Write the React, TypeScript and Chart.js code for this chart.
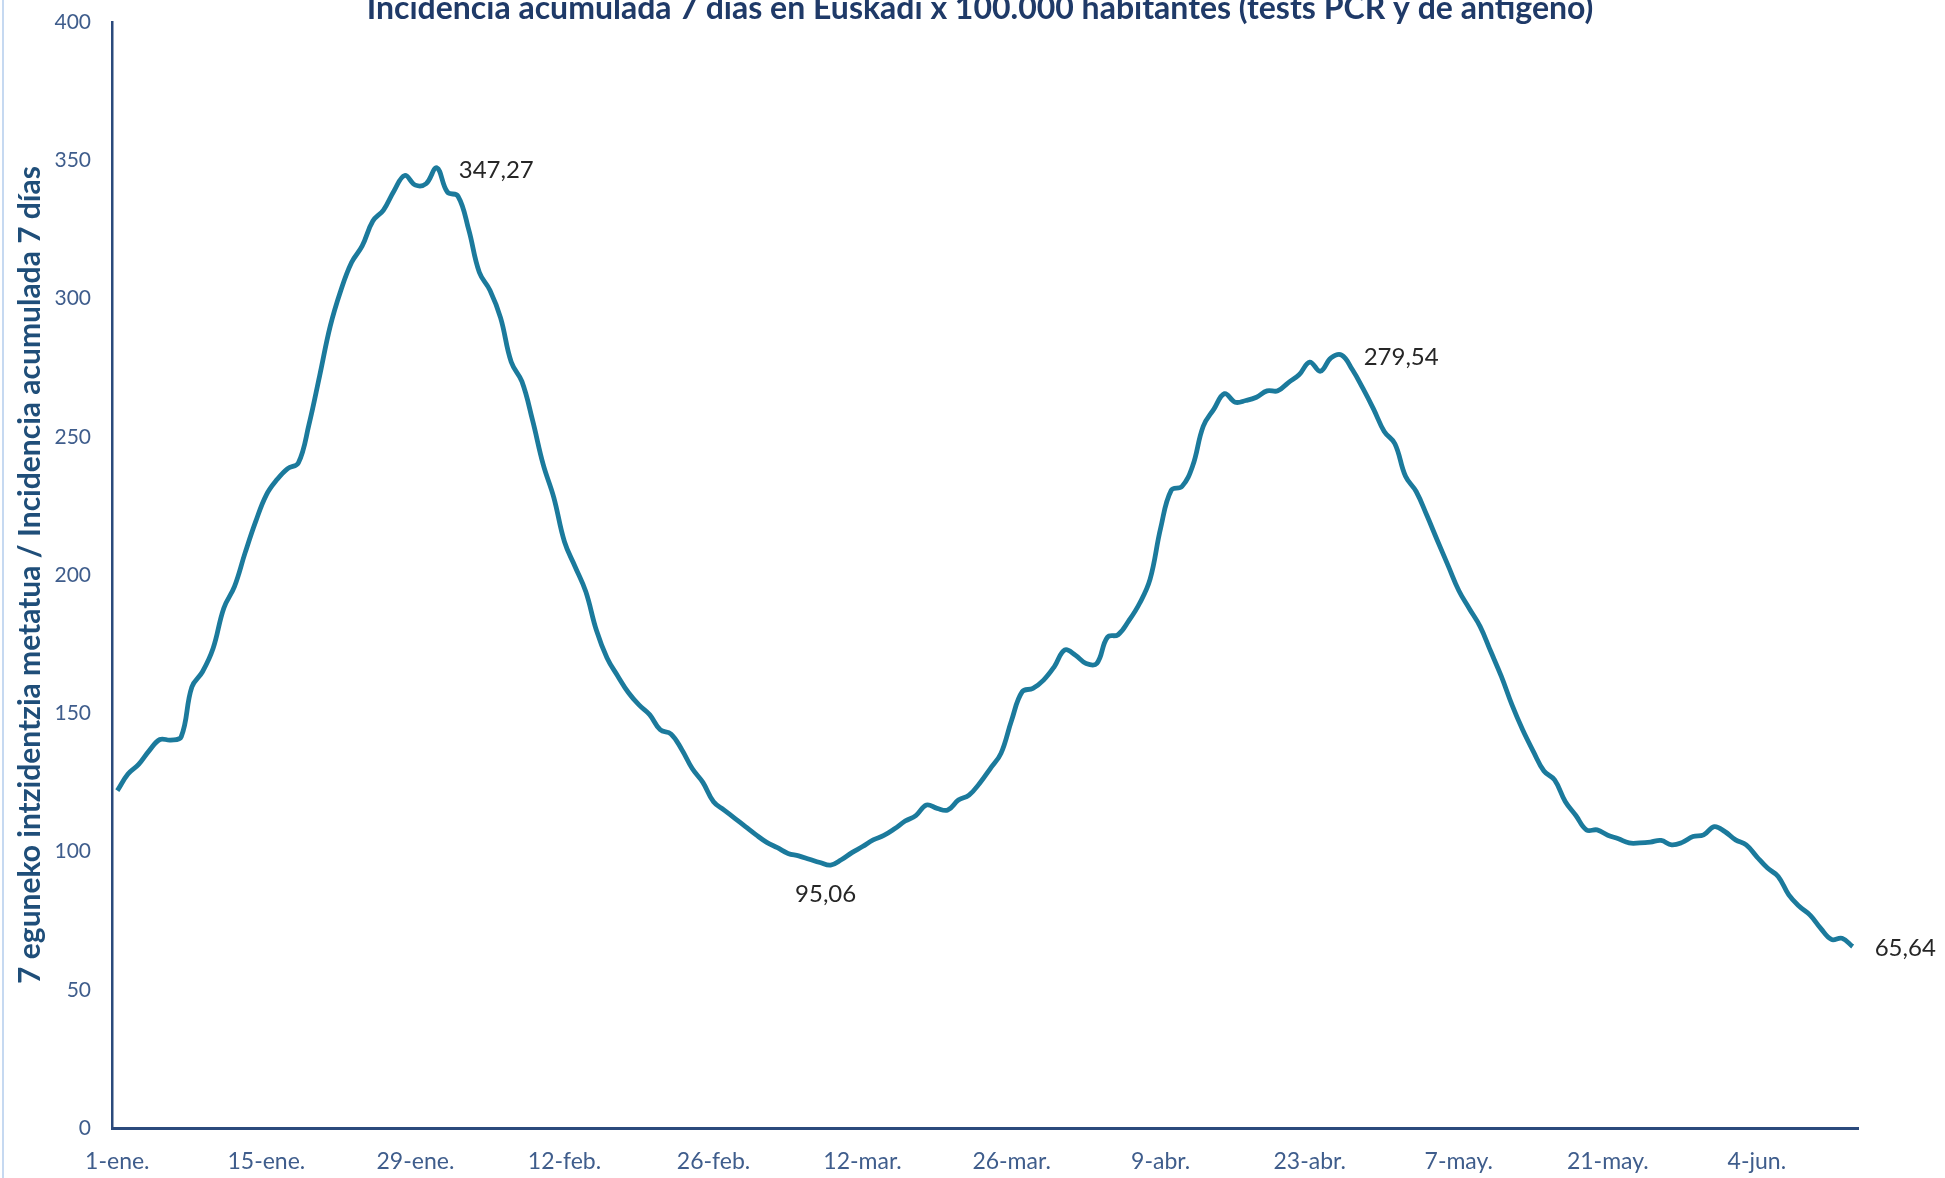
import React, { useEffect, useRef } from 'react';
import { Chart, registerables } from 'chart.js';

Chart.register(...registerables);

const TITLE = 'Incidencia acumulada 7 días en Euskadi x 100.000 habitantes (tests PCR y de antígeno)';
const Y_TITLE = '7 eguneko intzidentzia metatua / Incidencia acumulada 7 días';

const MONTHS = ['ene', 'feb', 'mar', 'abr', 'may', 'jun'];
const MONTH_DAYS = [31, 28, 31, 30, 31, 30];
const DAY_COUNT = 164;
const TICK_EVERY = 14;

const Y_MIN = 0;
const Y_MAX = 400;
const Y_STEP = 50;

// 7-day cumulative incidence per 100,000 inhabitants, 1-ene to 13-jun
const incidence = [
  122, 128, 131.5, 136.5, 140.5, 140.3, 141.5, 159.5, 165, 173.5,
  188, 195.8, 208, 219.4, 229, 234.5, 238.5, 240.5, 254.4, 272,
  290, 303, 313, 319, 328, 332, 339, 344.5, 341, 341.5,
  347.27, 338.5, 337, 325, 309.5, 303, 293, 277, 270, 256,
  240, 228, 212, 203, 194, 180, 170, 163.5, 157.5, 153,
  149.5, 144, 142.5, 137, 130, 125, 118, 115, 112, 109,
  106, 103.3, 101.4, 99.3, 98.4, 97.2, 96, 95.06, 97, 99.6,
  101.8, 104.2, 105.8, 108.2, 111, 113, 116.8, 115.6, 115, 118.6,
  120.4, 124.7, 130, 135.5, 147.5, 157.8, 159, 162, 166.8, 172.9,
  171, 168, 168, 177.5, 178.4, 183.4, 189.6, 198.4, 217, 230.7,
  232, 239.4, 253.8, 260, 265.6, 262.5, 263.1, 264.3, 266.6, 266.6,
  269.6, 272.4, 277, 273.7, 278.5, 279.54, 274.3, 267.5, 260, 251.9,
  247.5, 235.7, 230.2, 221.6, 212.4, 203.4, 194.4, 187.8, 181.4, 172.4,
  163.3, 153, 144, 136.2, 129.1, 125.9, 118.1, 113, 107.8, 107.8,
  105.9, 104.6, 103.1, 103.1, 103.4, 104, 102.4, 103.3, 105.4, 106,
  109, 107.2, 104.2, 102.4, 98.1, 94, 91, 84.3, 80.1, 77,
  72.2, 68.2, 68.6, 65.64,
];

const annotatedIndex = [30, 67, 115, 163];
const annotatedSide = ['right', 'below', 'right', 'right'];

function buildCategories(): string[] {
  const out: string[] = [];
  for (let m = 0; m < MONTHS.length && out.length < DAY_COUNT; m++) {
    for (let d = 1; d <= MONTH_DAYS[m] && out.length < DAY_COUNT; d++) {
      out.push(`${d}-${MONTHS[m]}.`);
    }
  }
  return out;
}

const categories = buildCategories();

const LINE_COLOR = '#1b7a9c';
const AXIS_COLOR = '#2b4a7c';
const TICK_COLOR = '#3f5d8c';
const YTITLE_COLOR = '#1f4e79';
const TITLE_COLOR = '#1f3a68';
const LABEL_COLOR = '#262626';

const decorPlugin = {
  id: 'decor',
  beforeDraw(chart: any) {
    const ctx = chart.ctx;
    ctx.save();
    ctx.fillStyle = '#ffffff';
    ctx.fillRect(0, 0, chart.width, chart.height);
    ctx.fillStyle = '#c6d9f1';
    ctx.fillRect(2, 0, 2, chart.height);
    ctx.restore();
  },
  afterDatasetsDraw(chart: any) {
    const ctx = chart.ctx;
    const meta = chart.getDatasetMeta(0);
    ctx.save();
    ctx.font = '24px Lato';
    ctx.fillStyle = LABEL_COLOR;
    annotatedIndex.forEach((idx, k) => {
      const pt = meta.data[idx];
      if (!pt) return;
      const text = incidence[idx].toFixed(2).replace('.', ',');
      if (annotatedSide[k] === 'below') {
        ctx.textAlign = 'center';
        ctx.textBaseline = 'middle';
        ctx.fillText(text, pt.x - 5, pt.y + 29);
      } else {
        ctx.textAlign = 'left';
        ctx.textBaseline = 'middle';
        ctx.fillText(text, pt.x + 22, pt.y + 2);
      }
    });
    ctx.restore();
  },
  afterDraw(chart: any) {
    const ctx = chart.ctx;
    ctx.save();
    ctx.font = 'bold 32px Lato';
    ctx.fillStyle = TITLE_COLOR;
    ctx.textAlign = 'center';
    ctx.textBaseline = 'alphabetic';
    ctx.fillText(TITLE, 980, 19, 1237);
    ctx.restore();
  },
};

export default function App() {
  const canvasRef = useRef<HTMLCanvasElement | null>(null);

  useEffect(() => {
    const canvas = canvasRef.current;
    if (!canvas) return;
    Chart.defaults.font.family = 'Lato';
    const chart = new Chart(canvas, {
      type: 'line',
      data: {
        labels: categories,
        datasets: [
          {
            data: incidence,
            borderColor: LINE_COLOR,
            borderWidth: 4.8,
            pointRadius: 0,
            pointHoverRadius: 0,
            tension: 0.4,
            fill: false,
            clip: false as any,
          },
        ],
      },
      options: {
        animation: false,
        responsive: false,
        devicePixelRatio: 1,
        layout: { padding: { left: 0, right: 87, top: 22, bottom: 0 } },
        plugins: {
          legend: { display: false },
          tooltip: { enabled: false },
          title: { display: false },
        },
        scales: {
          x: {
            type: 'category',
            offset: true,
            grid: { display: false, drawTicks: false },
            border: { display: true, color: AXIS_COLOR, width: 3 },
            ticks: {
              autoSkip: false,
              maxRotation: 0,
              minRotation: 0,
              padding: 20,
              color: TICK_COLOR,
              font: { family: 'Lato', size: 23 },
              callback: (_v: any, i: number) => (i % TICK_EVERY === 0 ? categories[i] : ''),
            },
            afterFit: (s: any) => {
              s.height = 50;
            },
          },
          y: {
            min: Y_MIN,
            max: Y_MAX,
            grid: { display: false, drawTicks: false },
            border: { display: true, color: AXIS_COLOR, width: 2.5 },
            ticks: {
              stepSize: Y_STEP,
              padding: 21,
              color: TICK_COLOR,
              font: { family: 'Lato', size: 21 },
            },
            title: {
              display: true,
              text: Y_TITLE,
              color: YTITLE_COLOR,
              font: { family: 'Lato', size: 30, weight: 'bold' },
              padding: { top: 12, bottom: 0 },
            },
            afterFit: (s: any) => {
              s.width = 112;
              s.paddingTop = 0;
              s.paddingBottom = 0;
            },
          },
        },
      },
      plugins: [decorPlugin],
    });
    return () => chart.destroy();
  }, []);

  return (
    <div style={{ position: 'fixed', left: 0, top: 0, width: 1945, height: 1178, background: '#fff' }}>
      <canvas ref={canvasRef} width={1945} height={1178} style={{ width: 1945, height: 1178, display: 'block' }} />
    </div>
  );
}
